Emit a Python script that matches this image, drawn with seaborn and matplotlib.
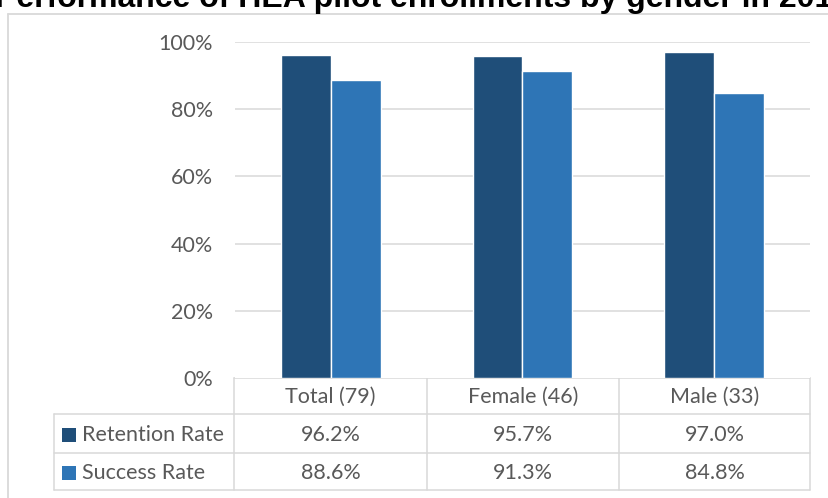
import matplotlib
matplotlib.use("Agg")
import matplotlib.pyplot as plt
from matplotlib.patches import Rectangle
import pandas as pd
import seaborn as sns

# Data
title = "Performance of HEA pilot enrollments by gender in 2015"
categories = ["Total (79)", "Female (46)", "Male (33)"]
series_names = ["Retention Rate", "Success Rate"]
retention = [96.2, 95.7, 97.0]
success = [88.6, 91.3, 84.8]
y_ticks = [0, 20, 40, 60, 80, 100]

colors = ["#1F4E79", "#2E75B6"]
grid_col = "#D9D9D9"
text_col = "#595959"

df = pd.DataFrame({
    "group": categories * 2,
    "metric": [series_names[0]] * 3 + [series_names[1]] * 3,
    "rate": retention + success,
})

sns.set_style("white")
plt.rcParams["font.family"] = ["Lato", "DejaVu Sans"]

W, H = 829, 498
fig = plt.figure(figsize=(W / 100, H / 100), dpi=100)

# plot area in pixel coordinates
left, right, top, bottom = 235, 810, 42, 378
ax = fig.add_axes([left / W, 1 - bottom / H, (right - left) / W, (bottom - top) / H])
sns.barplot(data=df, x="group", y="rate", hue="metric", palette=colors,
            width=0.52, saturation=1, legend=False, ax=ax, zorder=3)
ax.set_ylim(0, 100)
ax.set_xlim(-0.5, 2.5)
ax.set_yticks(y_ticks)
ax.set_yticklabels([f"{t}%" for t in y_ticks])
ax.set_xticks([])
ax.set_xlabel("")
ax.set_ylabel("")
ax.tick_params(axis="y", length=0, pad=16, labelsize=15.5, labelcolor=text_col)
for t in y_ticks[1:]:
    ax.axhline(t, color=grid_col, lw=1.1, zorder=1)
for s in ax.spines.values():
    s.set_visible(False)

# overlay in pixel coordinates for frame, title and data table
ov = fig.add_axes([0, 0, 1, 1], zorder=-1)
ov.set_xlim(0, W)
ov.set_ylim(H, 0)
ov.axis("off")
ov.patch.set_alpha(0)

lw = 1.1
# chart frame
ov.plot([8, W], [14, 14], color=grid_col, lw=1.3)
ov.plot([8, 8], [14, H], color=grid_col, lw=1.3)

ov.text(-5, 7, title, fontsize=23, fontweight="bold", color="black",
        family=["Liberation Sans", "DejaVu Sans"], ha="left", va="baseline")

# table geometry
col_edges = [234, 427, 619, 810]
row_edges = [378, 414, 453, 490]
tleft = 54

ov.plot([col_edges[0], col_edges[-1]], [row_edges[0]] * 2, color=grid_col, lw=lw)
for y in row_edges[1:]:
    ov.plot([tleft, col_edges[-1]], [y, y], color=grid_col, lw=lw)
for x in col_edges:
    ov.plot([x, x], [row_edges[0], row_edges[-1]], color=grid_col, lw=lw)
ov.plot([tleft, tleft], [row_edges[1], row_edges[-1]], color=grid_col, lw=lw)

fs = 15.5
for i, cat in enumerate(categories):
    cx = (col_edges[i] + col_edges[i + 1]) / 2
    ov.text(cx, (row_edges[0] + row_edges[1]) / 2 + 1, cat, ha="center", va="center",
            fontsize=fs, color=text_col)

for r, (name, vals) in enumerate(zip(series_names, [retention, success])):
    cy = (row_edges[r + 1] + row_edges[r + 2]) / 2 + 1
    ov.add_patch(Rectangle((62, cy - 7), 14, 14, color=colors[r], lw=0))
    ov.text(82, cy, name, ha="left", va="center", fontsize=fs, color=text_col)
    for i, v in enumerate(vals):
        cx = (col_edges[i] + col_edges[i + 1]) / 2
        ov.text(cx, cy, f"{v:.1f}%", ha="center", va="center", fontsize=fs, color=text_col)

fig.savefig("out.png", dpi=100, facecolor="white")
